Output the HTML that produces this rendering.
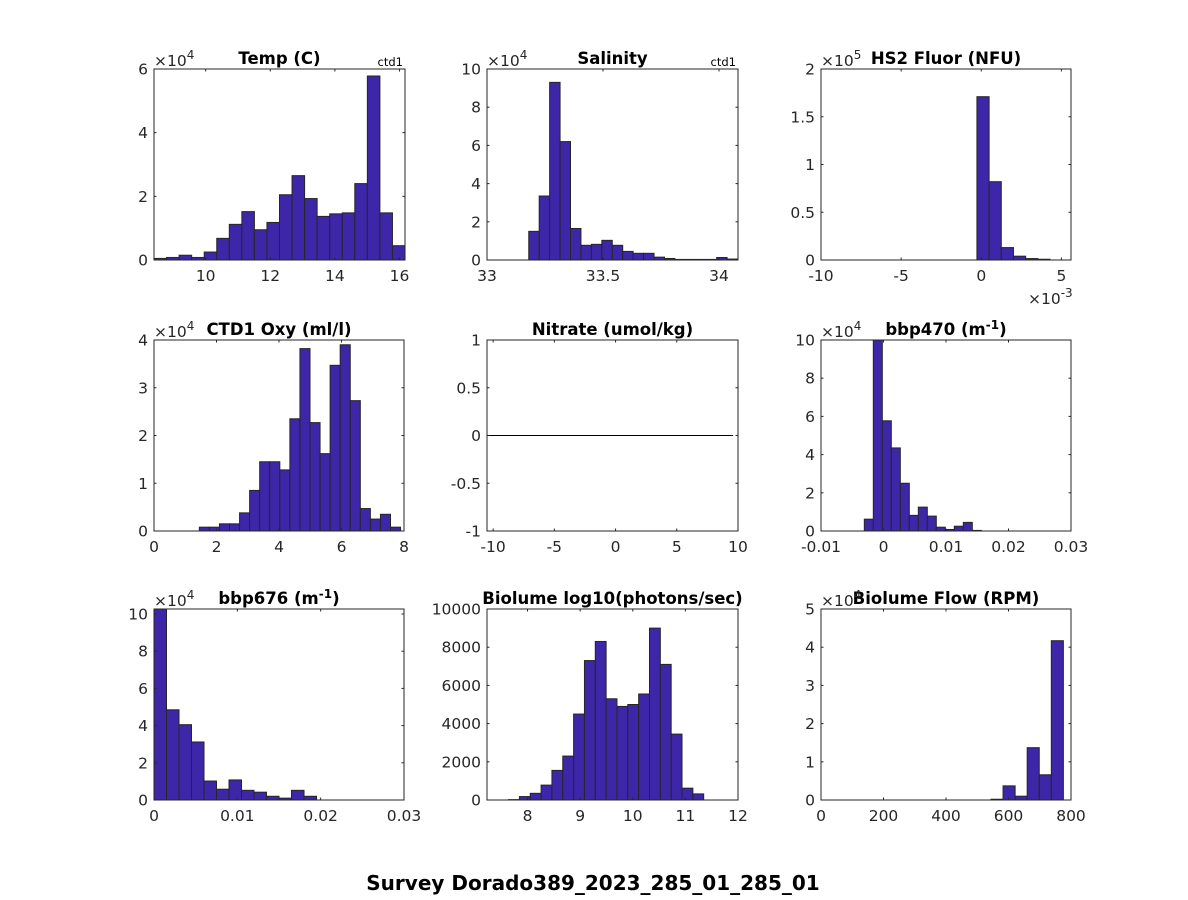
<!DOCTYPE html>
<html><head><meta charset="utf-8"><style>
html,body{margin:0;padding:0;background:#fff;}
svg{display:block;font-family:"DejaVu Sans","Liberation Sans",sans-serif;}
</style></head><body>
<svg id="fig" width="1188" height="900" viewBox="0 0 1188 900" xmlns="http://www.w3.org/2000/svg">
<rect width="1188" height="900" fill="#fff"/>
<text x="593" y="890" font-size="20" font-weight="bold" text-anchor="middle" fill="#000">Survey Dorado389_2023_285_01_285_01</text>
</svg>
<script>
// ---- data ----
const tempEdgeStart = 8.40, tempBinW = 0.3885;
const tempCounts = [0.05,0.08,0.15,0.08,0.25,0.68,1.12,1.52,0.95,1.18,2.05,2.65,1.93,1.37,1.45,1.48,2.4,5.78,1.48,0.45];
const salEdgeStart = 33.18, salBinW = 0.045;
const salCounts = [1.5,3.35,9.3,6.2,1.65,0.77,0.82,1.03,0.77,0.45,0.35,0.35,0.15,0.08,0.03,0.03,0.03,0.03,0.13,0.05];
const fluorEdgeStart = -0.27, fluorBinW = 0.76;
const fluorCounts = [1.71,0.82,0.13,0.04,0.015,0.008];
const oxyEdgeStart = 1.45, oxyBinW = 0.322;
const oxyCounts = [0.08,0.08,0.15,0.15,0.38,0.85,1.45,1.45,1.28,2.35,3.82,2.27,1.62,3.47,3.9,2.73,0.47,0.25,0.35,0.08];
const b470EdgeStart = -0.00307, b470BinW = 0.00144;
const b470Counts = [0.62,10.5,5.77,4.35,2.5,0.82,1.25,0.78,0.2,0.08,0.25,0.45,0.03];
const b676EdgeStart = 0, b676BinW = 0.0015;
const b676Counts = [10.5,4.85,4.05,3.12,1.02,0.58,1.08,0.52,0.42,0.2,0.1,0.52,0.2];
const bioEdgeStart = 7.64, bioBinW = 0.206;
const bioCounts = [20,180,350,780,1550,2300,4500,7300,8300,5300,4900,5000,5550,9000,7100,3450,620,320];
const flowEdgeStart = 544, flowBinW = 38.6;
const flowCounts = [0.02,0.37,0.1,1.37,0.66,4.17];
const nitrateLineX = [-10.5, 9.6];
const nitrateLineY = [0, 0];

const tempXTicks=[10,12,14,16], tempYTicks=[0,2,4,6];
const salXTicks=[33,33.5,34], salYTicks=[0,2,4,6,8,10];
const fluorXTicks=[-10,-5,0,5], fluorYTicks=[0,0.5,1,1.5,2];
const oxyXTicks=[0,2,4,6,8], oxyYTicks=[0,1,2,3,4];
const nitXTicks=[-10,-5,0,5,10], nitYTicks=[-1,-0.5,0,0.5,1];
const b470XTicks=[-0.01,0,0.01,0.02,0.03], b470YTicks=[0,2,4,6,8,10];
const b676XTicks=[0,0.01,0.02,0.03], b676YTicks=[0,2,4,6,8,10];
const bioXTicks=[8,9,10,11,12], bioYTicks=[0,2000,4000,6000,8000,10000];
const flowXTicks=[0,200,400,600,800], flowYTicks=[0,1,2,3,4,5];

const NS="http://www.w3.org/2000/svg";
const fig=document.getElementById('fig');
function mk(tag,attrs,parent){const e=document.createElementNS(NS,tag);for(const k in attrs)e.setAttribute(k,attrs[k]);(parent||fig).appendChild(e);return e;}

function panel(p){
  const g=mk('g',{});
  
  
  const L=p.box[0],T=p.box[1],R=p.box[2],B=p.box[3];
  const sx=v=>L+(v-p.xr[0])/(p.xr[1]-p.xr[0])*(R-L);
  const sy=v=>B-(v-p.yr[0])/(p.yr[1]-p.yr[0])*(B-T);
  mk('rect',{x:L,y:T,width:R-L,height:B-T,fill:'#fff'},g);
  if(p.counts){
    p.counts.forEach((c,i)=>{
      const x0=sx(p.start+i*p.binw), x1=sx(p.start+(i+1)*p.binw);
      const yv=Math.min(c,p.yr[1]);
      const r=mk('rect',{x:x0,y:sy(yv),width:x1-x0,height:B-sy(yv),fill:'#3d26a8',stroke:'#262626','stroke-width':1},g);
      
      
    });
  }
  if(p.line){
    const ln=mk('line',{x1:sx(p.line[0][0]),y1:sy(p.line[1][0]),x2:sx(p.line[0][1]),y2:sy(p.line[1][1]),stroke:'#000','stroke-width':1},g);
    
    
  }
  mk('rect',{x:L,y:T,width:R-L,height:B-T,fill:'none',stroke:'#262626','stroke-width':1},g);
  p.xt.forEach(v=>{
    const x=sx(v);
    mk('line',{x1:x,y1:B,x2:x,y2:B-2.5,stroke:'#262626'},g);
    mk('line',{x1:x,y1:T,x2:x,y2:T+2.5,stroke:'#262626'},g);
    const t=mk('text',{x:x,y:B+21,'font-size':15.5,'text-anchor':'middle',fill:'#262626'},g);
    t.textContent=String(v);
    
    
  });
  p.yt.forEach(v=>{
    const y=sy(v);
    mk('line',{x1:L,y1:y,x2:L+2.5,y2:y,stroke:'#262626'},g);
    mk('line',{x1:R,y1:y,x2:R-2.5,y2:y,stroke:'#262626'},g);
    const t=mk('text',{x:L-6,y:y+5.5,'font-size':15.5,'text-anchor':'end',fill:'#262626'},g);
    t.textContent=String(v);
    
    
  });
  const tt=mk('text',{x:(L+R)/2,y:T-5,'font-size':16.5,'font-weight':'bold','text-anchor':'middle',fill:'#000'},g);
  tt.innerHTML=p.title;
  
  
  if(p.yexp){
    const e=mk('text',{x:L,y:T-3,'font-size':15.5,fill:'#262626'},g);
    e.innerHTML='×10<tspan dy="-7" font-size="12">'+p.yexp+'</tspan>';
    
    
  }
  if(p.xexp){
    const e=mk('text',{x:R-43,y:B+44,'font-size':15.5,fill:'#262626'},g);
    e.innerHTML='×10<tspan dy="-7" font-size="12">'+p.xexp+'</tspan>';
    
    
  }
  if(p.ctd){
    const c=mk('text',{x:R-2,y:T-3,'font-size':11.5,'text-anchor':'end',fill:'#000'},g);
    c.textContent='ctd1';
    
    
  }
}

panel({name:'temp-histogram',box:[154,69,405,260],xr:[8.40,16.17],yr:[0,6],start:tempEdgeStart,binw:tempBinW,counts:tempCounts,xt:tempXTicks,yt:tempYTicks,title:'Temp (C)',yexp:'4',ctd:true});
panel({name:'salinity-histogram',box:[487,69,738,260],xr:[33,34.082],yr:[0,10],start:salEdgeStart,binw:salBinW,counts:salCounts,xt:salXTicks,yt:salYTicks,title:'Salinity',yexp:'4',ctd:true});
panel({name:'fluor-histogram',box:[821,69,1071,260],xr:[-10,5.6],yr:[0,2],start:fluorEdgeStart,binw:fluorBinW,counts:fluorCounts,xt:fluorXTicks,yt:fluorYTicks,title:'HS2 Fluor (NFU)',yexp:'5',xexp:'-3'});
panel({name:'oxygen-histogram',box:[154,340,404,531],xr:[0,8],yr:[0,4],start:oxyEdgeStart,binw:oxyBinW,counts:oxyCounts,xt:oxyXTicks,yt:oxyYTicks,title:'CTD1 Oxy (ml/l)',yexp:'4'});
panel({name:'nitrate-plot',box:[487,340,738,531],xr:[-10.5,10],yr:[-1,1],line:[nitrateLineX,nitrateLineY],xt:nitXTicks,yt:nitYTicks,title:'Nitrate (umol/kg)'});
panel({name:'bbp470-histogram',box:[821,340,1071,531],xr:[-0.01,0.03],yr:[0,10],start:b470EdgeStart,binw:b470BinW,counts:b470Counts,xt:b470XTicks,yt:b470YTicks,title:'bbp470 (m<tspan dy="-6" font-size="12">-1</tspan><tspan dy="6">)</tspan>',yexp:'4'});
panel({name:'bbp676-histogram',box:[154,609,404,800],xr:[0,0.03],yr:[0,10.27],start:b676EdgeStart,binw:b676BinW,counts:b676Counts,xt:b676XTicks,yt:b676YTicks,title:'bbp676 (m<tspan dy="-6" font-size="12">-1</tspan><tspan dy="6">)</tspan>',yexp:'4'});
panel({name:'biolume-histogram',box:[487,609,738,800],xr:[7.23,12],yr:[0,10000],start:bioEdgeStart,binw:bioBinW,counts:bioCounts,xt:bioXTicks,yt:bioYTicks,title:'Biolume log10(photons/sec)'});
panel({name:'flow-histogram',box:[821,609,1071,800],xr:[0,800],yr:[0,5],start:flowEdgeStart,binw:flowBinW,counts:flowCounts,xt:flowXTicks,yt:flowYTicks,title:'Biolume Flow (RPM)',yexp:'4'});
</script>
</body></html>
